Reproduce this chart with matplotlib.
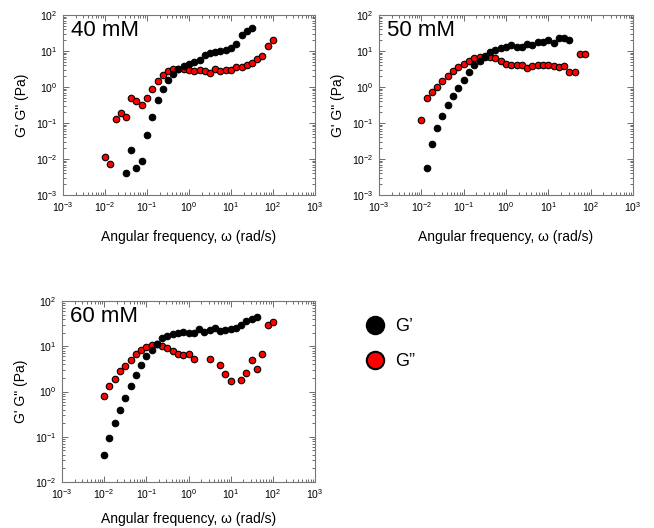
import math
import matplotlib
matplotlib.use("Agg")
import matplotlib.pyplot as plt
from matplotlib.lines import Line2D
from matplotlib.ticker import LogLocator, FuncFormatter, NullFormatter

plt.rcParams['font.family'] = ['Liberation Sans', 'DejaVu Sans']
plt.rcParams['mathtext.default'] = 'regular'

# frequency grid, rad/s
freq = [0.01, 0.0133, 0.0178, 0.0237, 0.0316, 0.0422, 0.0562, 0.075,
        0.1, 0.133, 0.178, 0.237, 0.316, 0.422, 0.562, 0.75,
        1.0, 1.33, 1.78, 2.37, 3.16, 4.22, 5.62, 7.5,
        10, 13.3, 17.8, 23.7, 31.6, 42.2, 56.2, 75, 100]

# 40 mM
w40_g1 = freq[4:29]
g1_40 = [0.0040, 0.018, 0.0058, 0.0088, 0.047, 0.15, 0.44, 0.9, 1.55, 2.3,
         3.1, 3.8, 4.3, 4.8, 5.6, 7.7, 8.6, 9.2, 10, 10.9, 12.4, 15.3, 28, 37, 43]
w40_g2 = freq
g2_40 = [0.0116, 0.0074, 0.13, 0.19, 0.145, 0.48, 0.41, 0.32, 0.49, 0.86,
         1.5, 2.2, 2.8, 3.1, 3.15, 3.2, 3.0, 2.8, 2.9, 2.8, 2.4, 3.1, 2.8,
         2.9, 2.9, 3.5, 3.7, 4.0, 4.6, 5.9, 7.3, 14, 20]

# 50 mM
w50_g1 = freq[1:29]
g1_50 = [0.0056, 0.026, 0.074, 0.16, 0.31, 0.55, 0.93, 1.55, 2.6, 4.0, 5.4,
         6.8, 9.1, 10.7, 12.1, 13.2, 14.4, 12.6, 12.6, 15.9, 14.4, 18.3, 17.9,
         20.2, 16.6, 22.4, 23, 20]
w50_g2 = freq[0:32]
g2_50 = [0.12, 0.50, 0.74, 1.02, 1.5, 2.07, 2.7, 3.5, 4.4, 5.4, 6.3, 6.8,
         7.2, 6.9, 6.3, 5.3, 4.3, 4.0, 4.2, 4.1, 3.4, 3.9, 4.2, 4.2, 4.1,
         3.9, 3.7, 3.8, 2.6, 2.55, 8.0, 8.3]

# 60 mM
w60_g1 = freq[0:30]
g1_60 = [0.039, 0.095, 0.20, 0.40, 0.73, 1.35, 2.3, 3.85, 6.2, 8.4, 11.4,
         15, 17, 19, 20, 20.4, 20, 20, 23.6, 20.4, 22.3, 25.8, 21.4, 23,
         23.5, 25, 29.5, 37, 40, 44]
w60_g2 = [0.01, 0.0133, 0.0178, 0.0237, 0.0316, 0.0422, 0.0562, 0.075,
          0.1, 0.133, 0.178, 0.237, 0.316, 0.422, 0.562, 0.75, 1.0, 1.33,
          3.16, 5.62, 7.5, 10, 17.8, 23.7, 31.6, 42.2, 56.2, 75, 100]
g2_60 = [0.78, 1.3, 1.92, 2.8, 3.7, 5.0, 6.6, 8.1, 9.5, 10.7, 11, 10.3,
         9.1, 7.8, 6.7, 6.3, 6.7, 5.1, 5.2, 3.8, 2.4, 1.7, 1.8, 2.6, 4.9,
         3.2, 6.6, 30, 34]

panels = [
    ("40 mM", w40_g1, g1_40, w40_g2, g2_40, (1e-3, 1e2), [63, 15, 252, 180], 11),
    ("50 mM", w50_g1, g1_50, w50_g2, g2_50, (1e-3, 1e2), [379, 15, 254, 180], 11),
    ("60 mM", w60_g1, g1_60, w60_g2, g2_60, (1e-2, 1e2), [62, 301, 253, 181], 8),
]

W, H = 654, 528
fig = plt.figure(figsize=(W / 100, H / 100), dpi=100)


def sci(v, pos):
    e = int(round(math.log10(v)))
    return r'10$^{%d}$' % e


for name, x1, y1, x2, y2, ylim, box, pad in panels:
    l, t, w, h = box
    ax = fig.add_axes([l / W, 1 - (t + h) / H, w / W, h / H])
    ax.set_xscale('log')
    ax.set_yscale('log')
    ax.scatter(x2, y2, s=22, c='#ff0000', edgecolors='black', linewidths=0.8, zorder=3)
    ax.scatter(x1, y1, s=22, c='black', edgecolors='black', linewidths=0.8, zorder=3)
    ax.set_xlim(1e-3, 1e3)
    ax.set_ylim(*ylim)
    for a in (ax.xaxis, ax.yaxis):
        a.set_major_locator(LogLocator(base=10, numticks=20))
        a.set_minor_locator(LogLocator(base=10, subs=range(2, 10), numticks=20))
        a.set_major_formatter(FuncFormatter(sci))
        a.set_minor_formatter(NullFormatter())
    ax.tick_params(which='both', direction='in', top=True, right=True,
                   color='#555555', width=0.6)
    ax.tick_params(which='major', length=4, labelsize=7.5, pad=4)
    ax.tick_params(which='minor', length=2)
    for sp in ax.spines.values():
        sp.set_color('#777777')
        sp.set_linewidth(0.8)
    ax.set_xlabel('Angular frequency, \u03c9 (rad/s)', fontsize=10, labelpad=pad)
    ax.set_ylabel('G\' G" (Pa)', fontsize=10, labelpad=5)
    ax.text(0.03, 0.97, name, transform=ax.transAxes, fontsize=16,
            ha='left', va='top')

handles = [
    Line2D([], [], ls='none', marker='o', ms=12.5, mfc='black', mec='black', mew=1.5),
    Line2D([], [], ls='none', marker='o', ms=12.5, mfc='#ff0000', mec='black', mew=1.5),
]
fig.legend(handles, ['G\u2019', 'G\u201d'], loc='upper left',
           bbox_to_anchor=(348 / W, 1 - 302 / H), frameon=False, fontsize=13,
           labelspacing=1.0, handletextpad=0.5, handlelength=1.2)

fig.savefig('out.png', dpi=100)
